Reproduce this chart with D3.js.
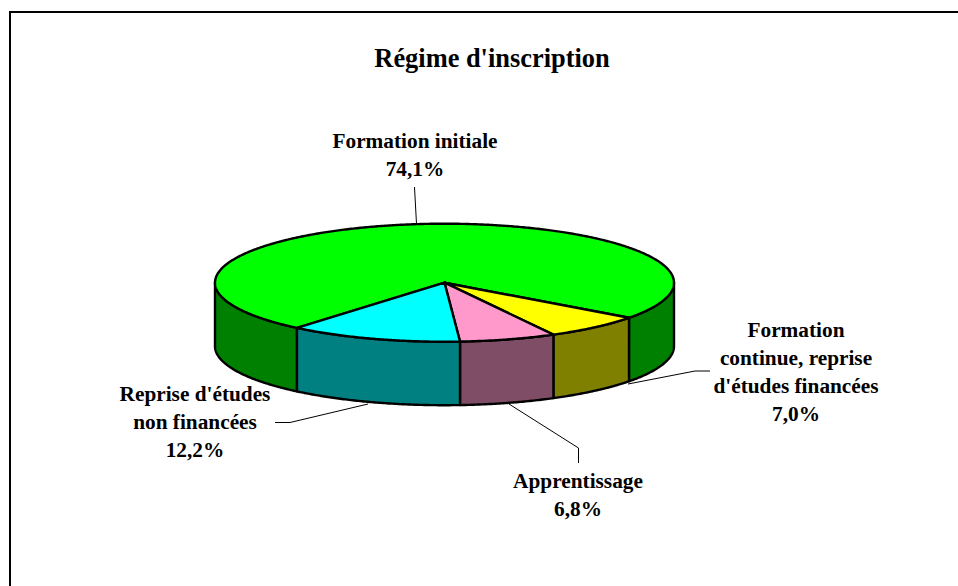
<!DOCTYPE html>
<html>
<head>
<meta charset="utf-8">
<script src="https://cdn.jsdelivr.net/npm/d3@7"></script>
<style>
html,body{margin:0;padding:0;background:#fff;overflow:hidden}
svg{display:block}
text{font-family:"Liberation Serif","Times New Roman",serif;font-weight:bold;fill:#000;text-anchor:middle}
</style>
</head>
<body>
<svg id="c" width="958" height="586"></svg>
<script>
const title = "Régime d'inscription";
const categories = ["Formation initiale", "Formation continue, reprise d'études financées", "Apprentissage", "Reprise d'études non financées"];
const values = [74.1, 7.0, 6.8, 12.2];
const valueLabels = ["74,1%", "7,0%", "6,8%", "12,2%"];
const topColors = ["#00ff00", "#ffff00", "#ff99cc", "#00ffff"];
const sideColors = ["#008000", "#808000", "#804d66", "#008080"];
const labelLines = [
  ["Formation initiale"],
  ["Formation", "continue, reprise", "d'études financées"],
  ["Apprentissage"],
  ["Reprise d'études", "non financées"]
];
const labelAnchors = [[415, 148], [796, 336.6], [578, 488], [195, 401]];
const leaders = [
  [[414.5, 187], [416.5, 224]],
  [[710, 371], [695, 371], [628, 384]],
  [[578.5, 463], [578.5, 448], [509, 404]],
  [[275, 422.5], [290, 422.5], [368, 404]]
];

const svg = d3.select("#c");
const cx = 444.5, cy = 282.7, rx = 229.5, ry = 59, depth = 63.5;
const xS = d3.scaleLinear().domain([-1, 1]).range([cx - rx, cx + rx]);
const yS = d3.scaleLinear().domain([-1, 1]).range([cy - ry, cy + ry]);

const deg = Math.PI / 180;
const startA = -140 * deg;
const arcs = d3.pie().sort(null).startAngle(startA).endAngle(startA + 2 * Math.PI)(values);

const line = d3.line().x(d => d[0]).y(d => d[1]);
function ptsOn(a0, a1, dz) {
  const n = Math.max(2, Math.ceil(Math.abs(a1 - a0) / (0.5 * deg)));
  return d3.range(n + 1).map(i => {
    const a = a0 + (a1 - a0) * i / n;
    return [xS(Math.sin(a)), yS(-Math.cos(a)) + dz];
  });
}
function sidePath(a0, a1) {
  return line(ptsOn(a0, a1, 0).concat(ptsOn(a1, a0, depth))) + "Z";
}

// frame: top and left rules only
svg.append("path").attr("d", "M10,586V12H958").attr("fill", "none").attr("stroke", "#000").attr("stroke-width", 2);

// leaders behind the pie
svg.append("g").selectAll("path").data(leaders).join("path")
  .attr("d", d => line(d)).attr("fill", "none").attr("stroke", "#000").attr("stroke-width", 1);

const gp = svg.append("g").attr("stroke", "#000").attr("stroke-width", 2.4).attr("stroke-linejoin", "round");

// visible wall: the front half only, from 90 to 270 degrees clockwise from 12 o'clock
const fr0 = 90 * deg, fr1 = 270 * deg;
arcs.forEach(d => {
  [0, 2 * Math.PI].forEach(off => {
    const a0 = Math.max(d.startAngle + off, fr0), a1 = Math.min(d.endAngle + off, fr1);
    if (a1 > a0) gp.append("path").attr("d", sidePath(a0, a1)).attr("fill", sideColors[d.index]);
  });
});

// top faces
gp.selectAll("path.top").data(arcs).join("path").attr("class", "top")
  .attr("fill", d => topColors[d.index])
  .attr("d", d => line([[xS(0), yS(0)]].concat(ptsOn(d.startAngle, d.endAngle, 0))) + "Z");

// texts
svg.append("text").attr("x", 492).attr("y", 67).attr("font-size", 26.4).text(title);
const lh = 28;
const fs = 21.3;
labelLines.forEach((lines, i) => {
  const [x, y] = labelAnchors[i];
  const t = svg.append("text").attr("font-size", fs);
  lines.concat([valueLabels[i]]).forEach((s, j) => {
    t.append("tspan").attr("x", x).attr("y", y + j * lh).text(s);
  });
});
</script>
</body>
</html>
